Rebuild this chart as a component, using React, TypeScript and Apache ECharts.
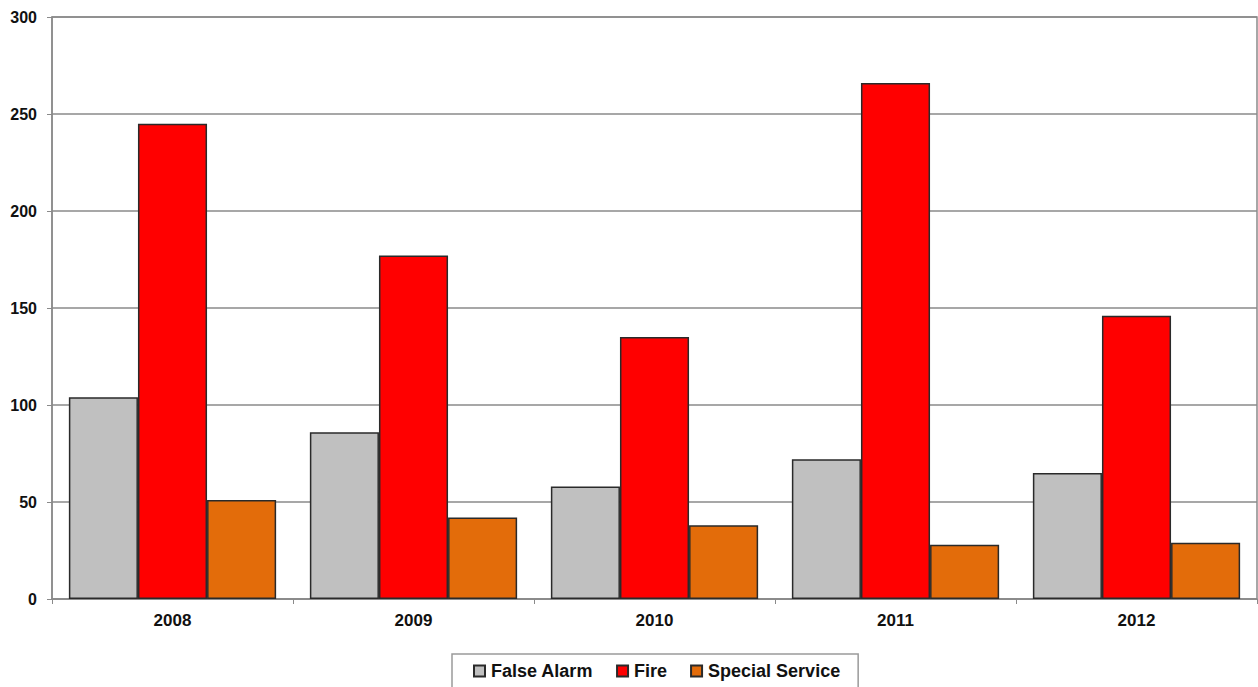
import React, { useEffect, useRef } from "react";
import * as echarts from "echarts";

const years = ["2008", "2009", "2010", "2011", "2012"];
const falseAlarm = [104, 86, 58, 72, 65];
const fire = [245, 177, 135, 266, 146];
const specialService = [51, 42, 38, 28, 29];

const FONT = "'Liberation Sans', Arial, sans-serif";

export default function App() {
  const ref = useRef<HTMLDivElement>(null);
  useEffect(() => {
    if (!ref.current) return;
    const chart = echarts.init(ref.current, undefined, { renderer: "svg" });
    const barStyle = (color: string) => ({
      color,
      borderColor: "#2a2a2a",
      borderWidth: 1.5,
    });
    chart.setOption({
      animation: false,
      backgroundColor: "#ffffff",
      textStyle: { fontFamily: FONT },
      grid: {
        left: 52,
        right: 1,
        top: 17,
        bottom: 88,
        show: true,
        borderColor: "#8a8a8a",
        borderWidth: 1.5,
      },
      legend: {
        top: 654,
        left: 452,
        icon: "rect",
        itemWidth: 11,
        itemHeight: 11,
        itemGap: 23,
        padding: [8, 18, 8, 21],
        borderColor: "#9a9a9a",
        borderWidth: 1.5,
        textStyle: {
          fontFamily: FONT,
          fontWeight: "bold",
          fontSize: 18,
          color: "#111",
          padding: [0, 0, 0, 1],
        },
        data: ["False Alarm", "Fire", "Special Service"],
      },
      xAxis: {
        type: "category",
        data: years,
        axisLine: { lineStyle: { color: "#8a8a8a", width: 1.5 } },
        axisTick: { show: true, length: 5, lineStyle: { color: "#8a8a8a" } },
        axisLabel: {
          fontFamily: FONT,
          fontWeight: "bold",
          fontSize: 17,
          color: "#111",
          margin: 13,
        },
      },
      yAxis: {
        type: "value",
        min: 0,
        max: 300,
        interval: 50,
        axisLine: { show: true, lineStyle: { color: "#8a8a8a", width: 1.5 } },
        axisTick: { show: true, length: 5, lineStyle: { color: "#8a8a8a" } },
        splitLine: { lineStyle: { color: "#8a8a8a", width: 1.5 } },
        axisLabel: {
          fontFamily: FONT,
          fontWeight: "bold",
          fontSize: 16,
          color: "#111",
          margin: 15,
        },
      },
      series: [
        {
          name: "False Alarm",
          type: "bar",
          data: falseAlarm,
          barGap: "0%",
          barCategoryGap: "14%",
          itemStyle: barStyle("#c0c0c0"),
        },
        {
          name: "Fire",
          type: "bar",
          data: fire,
          barGap: "0%",
          barCategoryGap: "14%",
          itemStyle: barStyle("#ff0000"),
        },
        {
          name: "Special Service",
          type: "bar",
          data: specialService,
          barGap: "0%",
          barCategoryGap: "14%",
          itemStyle: barStyle("#e36c0a"),
        },
      ],
    });
    return () => chart.dispose();
  }, []);
  return (
    <div
      ref={ref}
      style={{ width: 1258, height: 687, position: "absolute", left: 0, top: 0 }}
    />
  );
}
